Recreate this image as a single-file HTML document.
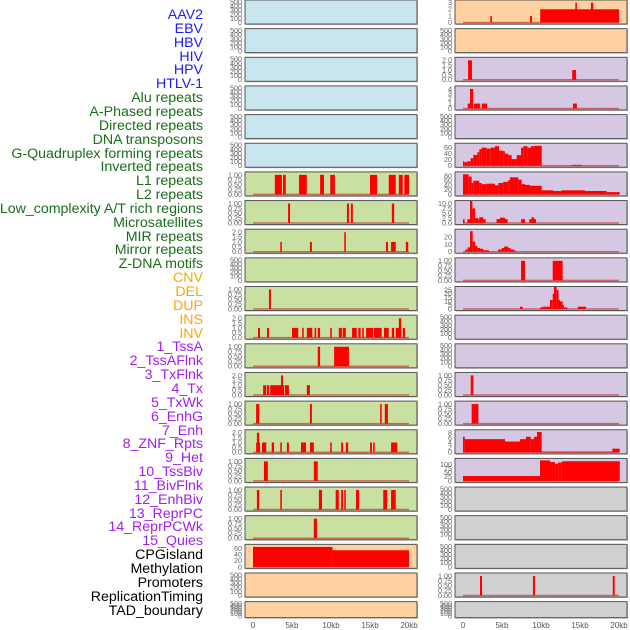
<!DOCTYPE html>
<html><head><meta charset="utf-8">
<style>
body{margin:0;background:#fff;width:630px;height:630px;overflow:hidden;font-family:"Liberation Sans",sans-serif}
#labels{position:absolute;left:0;top:0;width:203px}
.lb{position:absolute;right:0;font-size:14.2px;line-height:14px;white-space:nowrap;text-align:right}
svg{position:absolute;left:0;top:0}
</style></head><body>
<div id="labels"></div>
<svg id="chart" width="630" height="630"></svg>
<script>
const labelNames = ["AAV2","EBV","HBV","HIV","HPV","HTLV-1","Alu repeats","A-Phased repeats","Directed repeats","DNA transposons","G-Quadruplex forming repeats","Inverted repeats","L1 repeats","L2 repeats","Low_complexity A/T rich regions","Microsatellites","MIR repeats","Mirror repeats","Z-DNA motifs","CNV","DEL","DUP","INS","INV","1_TssA","2_TssAFlnk","3_TxFlnk","4_Tx","5_TxWk","6_EnhG","7_Enh","8_ZNF_Rpts","9_Het","10_TssBiv","11_BivFlnk","12_EnhBiv","13_ReprPC","14_ReprPCWk","15_Quies","CPGisland","Methylation","Promoters","ReplicationTiming","TAD_boundary"];
const labelGroups = [6,13,5,15,5];
const xTickLabels = ["0","5kb","10kb","15kb","20kb"];
const xTickValues = [0,5,10,15,20];
const emptyTicks = [0,100,200,300,400,500];

// data: [startKb, endKb, value]
const L7 = [[2.8,3.7,1],[3.85,4.2,1],[5.9,6.9,1],[8.6,9.1,1],[9.9,10.5,1],[15.0,15.9,1],[17.4,18.3,1],[18.7,19.2,1],[19.4,20.0,1]];
const L8 = [[4.5,4.75,1],[12.05,12.3,1],[12.55,12.8,1],[17.8,18.1,1]];
const L9 = [[3.5,3.7,1],[7.3,7.55,1],[11.7,11.9,2],[17.05,17.3,1],[17.7,18.3,1],[19.6,19.9,1]];
const L11 = [[2.05,2.3,1]];
const L12 = [[0.64,0.9,1],[1.8,2.05,1],[5.0,5.8,1],[6.3,6.5,1],[6.9,7.6,1],[7.9,8.1,1],[8.3,8.6,1],[9.9,10.1,1],[11.0,11.4,1],[11.5,11.9,1],[12.7,13.3,1],[13.5,13.8,1],[14.0,14.2,1],[14.5,15.4,1],[15.5,16.5,1],[16.8,17.4,1],[17.8,18.1,1],[18.3,19.0,1],[18.7,19.0,2],[19.2,19.5,1]];
const L13 = [[8.3,8.6,1],[10.4,12.3,1]];
const L14 = [[1.3,1.7,1],[1.8,2.05,1],[2.2,4.0,1],[3.6,3.85,2],[4.1,4.6,1],[6.9,7.3,1]];
const L15 = [[0.4,0.8,1],[7.3,7.55,1],[16.3,16.5,1],[16.9,17.3,1]];
const L16 = [[0.4,0.9,1],[0.5,0.8,2],[1.15,1.7,1],[2.4,2.7,1],[3.5,3.7,1],[4.35,4.6,1],[6.15,6.8,1],[7.3,7.8,1],[9.9,10.1,1],[11.3,11.55,1],[11.9,12.2,1],[15.0,15.25,1],[15.4,15.6,1],[17.7,18.5,1]];
const L17 = [[1.4,1.9,1],[7.8,8.3,1]];
const L18 = [[0.5,0.8,1],[3.5,3.7,1],[8.45,8.85,1],[10.6,11.0,1],[11.3,11.55,1],[11.7,11.9,1],[13.2,13.6,1],[16.7,17.2,1],[17.7,18.3,1]];
const L19 = [[7.8,8.2,1]];
const L20 = [[0,10.2,66],[10.2,20,55]];
const R1 = [[3.5,3.7,1],[8.6,8.85,1],[9.9,20,2],[14.4,14.6,3],[16.4,16.7,3]];
const R3 = [[0.65,1.15,2],[14.0,14.5,1]];
const R4 = [[0.6,0.9,1],[0.9,1.3,4],[1.4,2.2,1],[2.4,3.1,1],[14.1,14.6,1]];
const R6 = [[0,0.17,15],[0.17,0.56,12],[0.56,0.98,15],[0.98,1.32,25],[1.32,1.84,36],[1.84,2.09,45],[2.09,2.39,55],[2.39,3.03,60],[3.03,3.55,57],[3.55,4.1,60],[4.1,4.62,65],[4.62,5.17,50],[5.17,5.38,48],[5.38,5.81,40],[5.81,6.24,35],[6.24,6.88,22],[6.88,7.44,35],[7.44,7.74,60],[7.74,8.29,65],[8.29,8.72,60],[8.72,9.23,65],[9.23,10.09,66],[13.93,15.3,3]];
const R7 = [[0,0.73,88],[0.73,1.11,78],[1.11,1.32,50],[1.32,2.09,60],[2.09,2.39,50],[2.39,3.03,45],[3.03,4.1,47],[4.1,4.53,40],[4.53,5.17,50],[5.17,5.81,55],[5.81,6.03,63],[6.03,7.09,75],[7.09,7.52,65],[7.52,7.95,45],[7.95,8.59,42],[8.59,10.09,38],[10.09,11.58,18],[11.58,12.65,15],[12.65,15.64,18],[15.64,18.42,15],[18.42,20.1,10]];
const R8 = [[0,0.2,2],[0.56,0.9,2],[0.9,1.2,12],[1.2,1.54,7.5],[1.54,1.97,2.5],[1.97,2.09,2],[2.09,2.6,3],[2.6,2.9,2],[4.3,4.74,2],[4.74,5.38,2.8],[5.38,5.72,2],[7.44,7.95,2],[8.5,8.8,2],[8.8,9.1,3],[9.1,9.36,2]];
const R9 = [[0.3,0.6,3],[0.6,0.9,6],[0.9,1.24,28],[1.24,1.54,14],[1.54,1.84,8],[1.84,2.2,5],[2.2,2.6,4],[2.6,3.33,2],[4.5,4.96,3],[4.96,5.26,5],[5.26,5.81,7],[5.81,6.1,5],[6.1,6.54,3],[6.54,6.8,1.5]];
const R10 = [[7.44,7.95,1],[11.5,12.78,1]];
const R11 = [[7.3,7.65,3],[9.87,10.2,2],[10.2,11.15,3],[11.15,11.5,12],[11.5,11.66,20],[11.66,12.0,30],[12.0,12.25,25],[12.25,12.44,12],[12.44,12.78,10],[12.78,12.95,5],[12.95,13.4,2],[14.7,15.77,3]];
const R14 = [[0.99,1.33,1]];
const R15 = [[1.11,1.97,1]];
const R16 = [[0,0.23,6.5],[0.23,5.38,5.5],[5.38,7.31,4.5],[7.31,8.08,5.5],[8.08,8.68,6.5],[8.68,9.1,5.5],[9.1,9.49,6.5],[9.49,10.09,8.5],[10.09,19.15,0.3],[19.15,20.1,1.5]];
const R17 = [[0,9.87,30],[9.87,11.15,125],[11.15,11.8,115],[11.8,12.2,105],[12.2,12.65,112],[12.65,12.95,118],[12.95,20.1,120]];
const R21 = [[2.18,2.44,1],[8.97,9.23,1],[19.2,19.45,1]];

const t1 = [0,0.25,0.5,0.75,1], t2=[0,0.5,1,1.5,2];
const f2 = v=>v.toFixed(2), f1=v=>v.toFixed(1), f0=v=>String(v);
const BLUE="#c8e4ec",GREEN="#c8e0a2",ORANGE="#ffd0a0",PURPLE="#d6c8e2",GRAY="#d0d0d0";
const left = [
 {bg:BLUE},{bg:BLUE},{bg:BLUE},{bg:BLUE},{bg:BLUE},{bg:BLUE},
 {bg:GREEN,d:L7,max:1.05,t:t1,f:f2},{bg:GREEN,d:L8,max:1.05,t:t1,f:f2},{bg:GREEN,d:L9,max:2.1,t:t2,f:f1},
 {bg:GREEN},{bg:GREEN,d:L11,max:1.05,t:t1,f:f2},{bg:GREEN,d:L12,max:2.1,t:t2,f:f1},{bg:GREEN,d:L13,max:1.05,t:t1,f:f2},
 {bg:GREEN,d:L14,max:2.1,t:t2,f:f1},{bg:GREEN,d:L15,max:1.05,t:t1,f:f2},{bg:GREEN,d:L16,max:2.1,t:t2,f:f1},
 {bg:GREEN,d:L17,max:1.05,t:t1,f:f2},{bg:GREEN,d:L18,max:1.05,t:t1,f:f2},{bg:GREEN,d:L19,max:1.05,t:t1,f:f2},
 {bg:ORANGE,d:L20,max:68,t:[0,20,40,60],f:f0},{bg:ORANGE},{bg:ORANGE,short:1}
];
const right = [
 {bg:ORANGE,d:R1,max:3.1,t:[0,1,2,3],f:f0},{bg:ORANGE},{bg:PURPLE,d:R3,max:2.1,t:t2,f:f1},{bg:PURPLE,d:R4,max:4.2,t:[0,1,2,3,4],f:f0},
 {bg:PURPLE},{bg:PURPLE,d:R6,max:68,t:[0,20,40,60],f:f0},{bg:PURPLE,d:R7,max:90,t:[0,20,40,60,80],f:f0},
 {bg:PURPLE,d:R8,max:10.5,t:[0,2.5,5,7.5,10],f:f1},{bg:PURPLE,d:R9,max:28,t:[0,10,20],f:f0},{bg:PURPLE,d:R10,max:1.05,t:t1,f:f2},
 {bg:PURPLE,d:R11,max:27,t:[0,5,10,15,20,25],f:f0},{bg:PURPLE},{bg:PURPLE},{bg:PURPLE,d:R14,max:1.05,t:t1,f:f2},
 {bg:PURPLE,d:R15,max:1.05,t:t1,f:f2},{bg:PURPLE,d:R16,max:8.6,t:[0,2,4,6,8],f:f0},{bg:PURPLE,d:R17,max:125,t:[0,25,50,75,100],f:f0},
 {bg:GRAY},{bg:GRAY},{bg:GRAY},{bg:GRAY,d:R21,max:1.05,t:t1,f:f2},{bg:GRAY,short:1}
];

// labels
const colors=["#1a1aff","#1a6e1a","#ffa500","#a020f0","#000"];
const lab=document.getElementById('labels');
let gi=0,cnt=0;
labelNames.forEach((n,i)=>{
  while(cnt>=labelGroups[gi]){cnt=0;gi++;}
  cnt++;
  const d=document.createElement('div');
  d.className='lb';
  d.style.top=(8+i*13.85)+'px';
  d.style.color=colors[gi];
  d.textContent=n;
  
  
  lab.appendChild(d);
});

const svg=document.getElementById('chart');
const NS="http://www.w3.org/2000/svg";
function mk(tag,attrs,parent){const e=document.createElementNS(NS,tag);for(const k in attrs)e.setAttribute(k,attrs[k]);(parent||svg).appendChild(e);return e;}
function drawCol(rows,px0,x0,colName){
  const xs=kb=>x0+kb*7.8;
  rows.forEach((r,i)=>{
    const top=i*28.65, h=r.short?16:24;
    const g=mk('g',{});
    
    
    mk('rect',{x:px0+1,y:top+1,width:172,height:h,fill:'#bbb'},g);
    mk('rect',{x:px0,y:top,width:172,height:h,fill:r.bg,stroke:'#555','stroke-width':1},g);
    const yb=top+h-1.5, yt=top+2;
    const max=r.d?r.max:500;
    const ys=v=>yb-(v/max)*(yb-yt);
    const ticks=r.d?r.t:emptyTicks;
    const fmt=r.d?r.f:f0;
    ticks.forEach(v=>{
      const tx=mk('text',{x:px0-3,y:ys(v)+2.4,'font-size':7.2,fill:'#666','text-anchor':'end'},g);
      tx.textContent=fmt(v);
    });
    if(r.d){
      mk('line',{x1:xs(0),x2:xs(20),y1:yb,y2:yb,stroke:'rgba(190,0,0,0.5)','stroke-width':1.5},g);
      r.d.forEach(s=>{
        const b=mk('rect',{x:xs(s[0]),y:Math.max(top+0.5,ys(s[2])),width:Math.max(1,xs(s[1])-xs(s[0])),height:yb-Math.max(top+0.5,ys(s[2])),fill:'#ff0000'},g);
        
        
      });
    }
  });
  xTickValues.forEach((v,j)=>{
    const t=mk('text',{x:xs(v),y:628,'font-size':8,fill:'#555','text-anchor':'middle'});
    t.textContent=xTickLabels[j];
    
    
  });
}
drawCol(left,245,253,'left');
drawCol(right,455,463,'right');
</script>
</body></html>
